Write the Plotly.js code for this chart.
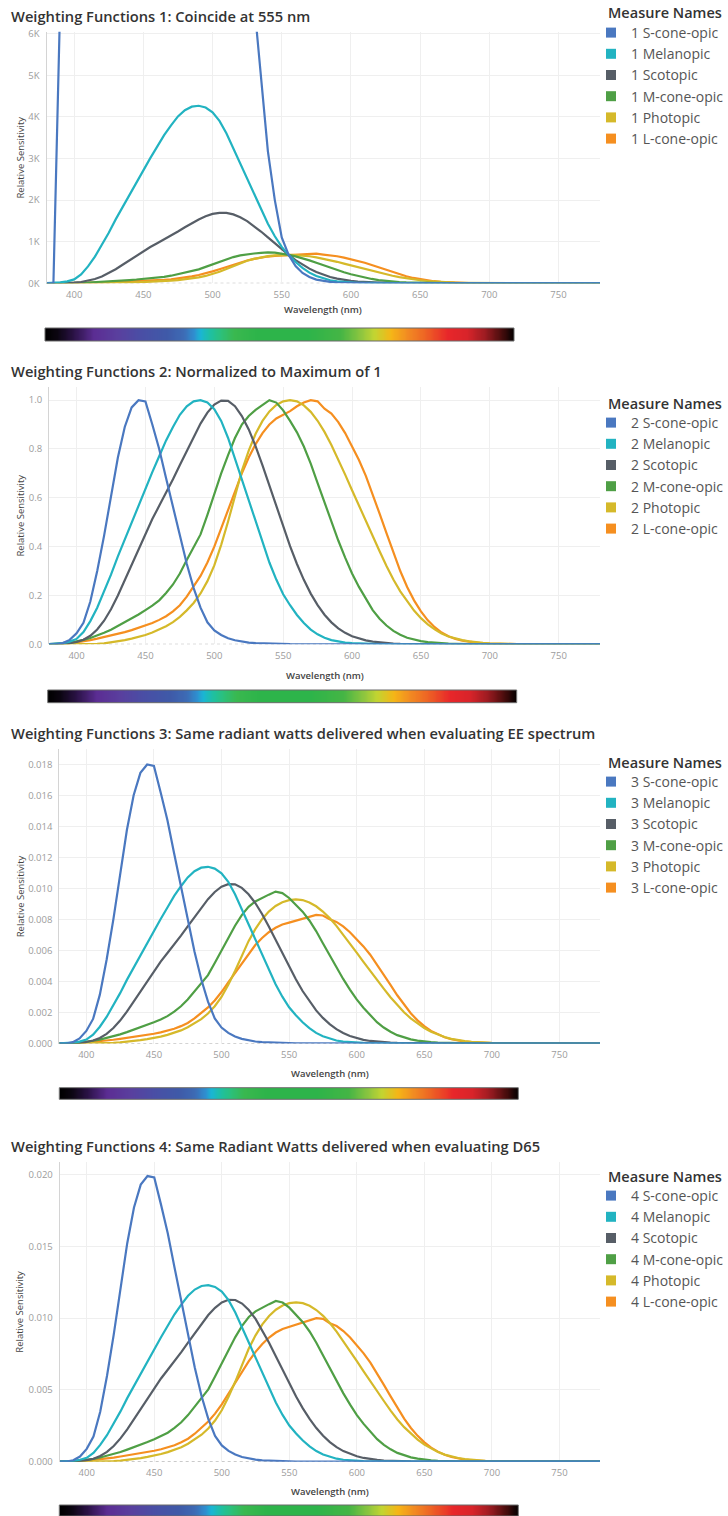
<!DOCTYPE html>
<html>
<head>
<meta charset="utf-8">
<script src="https://cdn.plot.ly/plotly-3.0.1.min.js"></script>
<style>
html,body{margin:0;padding:0;background:#fff;}
#chart{width:728px;height:1516px;}
</style>
</head>
<body>
<div id="chart"></div>
<script>
// ---------- DATA ----------
const wavelengths = [380,385,390,395,400,405,410,415,420,425,430,435,440,445,450,455,460,465,470,475,480,485,490,495,500,505,510,515,520,525,530,535,540,545,550,555,560,565,570,575,580,585,590,595,600,605,610,615,620,625,630,635,640,645,650,655,660,665,670,675,680,685,690,695,700,720,750,780];

// Shapes as drawn in panel 2 (normalized to a maximum of 1)
const sConeOpic = [0,0,0.005,0.018,0.045,0.088,0.175,0.30,0.445,0.60,0.765,0.89,0.97,1.0,0.995,0.90,0.80,0.68,0.565,0.44,0.33,0.23,0.15,0.09,0.057,0.038,0.025,0.0165,0.0108,0.0072,0.0049,0.00355,0.0023,0.00145,0.0008,0.000495,0.0003,0.00018,0.00011,0.000065,0.00004,0.000024,0.000014,0.0000085,0.000005,0.000003,0.000002,0.000001,0,0,0,0,0,0,0,0,0,0,0,0,0,0,0,0,0,0,0,0];
const melanopic = [0.001,0.002,0.005,0.011,0.022,0.05,0.095,0.15,0.215,0.285,0.36,0.43,0.50,0.57,0.64,0.705,0.77,0.835,0.89,0.94,0.975,0.995,1.0,0.99,0.963,0.915,0.845,0.76,0.67,0.585,0.50,0.415,0.335,0.265,0.205,0.16,0.12,0.087,0.06,0.041,0.027,0.017,0.011,0.007,0.0045,0.003,0.002,0.0013,0.0009,0.0006,0.0004,0.0003,0.0002,0.00015,0.0001,0.00007,0.00005,0.00003,0.00002,0.00001,0.00001,0,0,0,0,0,0,0];
const scotopic = [0.000589,0.001108,0.002209,0.00453,0.00929,0.01852,0.03484,0.0604,0.0966,0.1436,0.1998,0.2625,0.3281,0.3931,0.455,0.513,0.567,0.62,0.676,0.734,0.793,0.851,0.904,0.949,0.982,0.998,0.997,0.975,0.935,0.88,0.811,0.733,0.65,0.564,0.481,0.402,0.3288,0.2639,0.2076,0.1602,0.1212,0.0899,0.0655,0.0469,0.03315,0.02312,0.01593,0.01088,0.00737,0.00497,0.003335,0.002235,0.001497,0.001005,0.000677,0.000459,0.000313,0.000215,0.000148,0.000103,0.0000715,0.00005,0.0000353,0.000025,0.0000178,0.0000045,0.0000006,0];
const mConeOpic = [0,0,0.003,0.006,0.011,0.018,0.026,0.036,0.047,0.06,0.075,0.09,0.105,0.122,0.14,0.158,0.18,0.21,0.245,0.29,0.345,0.395,0.45,0.53,0.615,0.70,0.775,0.845,0.90,0.935,0.96,0.98,1.0,0.99,0.958,0.915,0.868,0.81,0.74,0.66,0.58,0.50,0.425,0.355,0.29,0.235,0.185,0.14,0.105,0.077,0.055,0.039,0.027,0.019,0.013,0.009,0.006,0.004,0.0027,0.0018,0.0012,0.0008,0.0005,0.0003,0.0002,0.00005,0,0];
const photopic = [0.000039,0.000064,0.00012,0.000217,0.000396,0.00064,0.00121,0.00218,0.004,0.0073,0.0116,0.01684,0.023,0.0298,0.038,0.048,0.06,0.0739,0.09098,0.1126,0.13902,0.1693,0.20802,0.2586,0.323,0.4073,0.503,0.6082,0.71,0.7932,0.862,0.91485,0.954,0.9803,0.99495,1.0,0.995,0.9786,0.952,0.9154,0.87,0.8163,0.757,0.6949,0.631,0.5668,0.503,0.4412,0.381,0.321,0.265,0.217,0.175,0.1382,0.107,0.0816,0.061,0.04458,0.032,0.0232,0.017,0.01192,0.00821,0.005723,0.004102,0.001047,0.00012,0.000015];
const lConeOpic = [0,0,0.002,0.004,0.008,0.012,0.017,0.023,0.029,0.036,0.043,0.05,0.058,0.067,0.076,0.087,0.1,0.115,0.135,0.16,0.195,0.235,0.28,0.335,0.40,0.475,0.55,0.625,0.70,0.765,0.82,0.865,0.90,0.925,0.94,0.955,0.975,0.99,1.0,0.995,0.965,0.945,0.91,0.865,0.81,0.755,0.69,0.615,0.535,0.455,0.375,0.30,0.235,0.18,0.135,0.098,0.07,0.048,0.033,0.022,0.015,0.01,0.0066,0.0044,0.003,0.0006,0.0001,0];

const seriesNames = ['S-cone-opic','Melanopic','Scotopic','M-cone-opic','Photopic','L-cone-opic'];
const seriesShapes = [sConeOpic, melanopic, scotopic, mConeOpic, photopic, lConeOpic];

// Per-panel size of each curve (panel 1: all meet at 683 at 555 nm; panels 2-4: peak values)
const panel1Scale = [1380000, 4269, 1699, 746, 683, 715];
const panel2Scale = [1, 1, 1, 1, 1, 1];
const panel3Scale = [0.0180, 0.0114, 0.0103, 0.0098, 0.0093, 0.0083];
const panel4Scale = [0.0199, 0.0123, 0.0113, 0.0112, 0.0111, 0.0100];

const panelTitles = [
  'Weighting Functions 1: Coincide at 555 nm',
  'Weighting Functions 2: Normalized to Maximum of 1',
  'Weighting Functions 3: Same radiant watts delivered when evaluating EE spectrum',
  'Weighting Functions 4: Same Radiant Watts delivered when evaluating D65'
];
const legendTitle = 'Measure Names';
const xTickVals = [400,450,500,550,600,650,700,750];
const yTickVals1 = [0,1000,2000,3000,4000,5000,6000];
const yTickText1 = ['0K','1K','2K','3K','4K','5K','6K'];
const yTickVals2 = [0,0.2,0.4,0.6,0.8,1.0];
const yTickVals3 = [0,0.002,0.004,0.006,0.008,0.010,0.012,0.014,0.016,0.018];
const yTickVals4 = [0,0.005,0.010,0.015,0.020];

// Visible-spectrum strip colours
const spectrumStops  = [0, 0.025, 0.06, 0.103, 0.153, 0.203, 0.26, 0.295, 0.317, 0.331, 0.352, 0.374, 0.402, 0.452, 0.559, 0.63, 0.673, 0.701, 0.737, 0.772, 0.808, 0.858, 0.9, 0.936, 0.972, 1];
const spectrumColors = ['#000000','#0b0510','#2a1245','#5b2d93','#5a3f9e','#4a4ea5','#3f5aa8','#3d6bb5','#2f8fd0','#1ab6d4','#1fc0a0','#2cc07a','#3ab84f','#2db44a','#2db44a','#45b545','#8ec63f','#c2d532','#f5b617','#f28b22','#ee6524','#e8262a','#d8242a','#9e1c22','#4a0d0d','#000000'];

// ---------- STYLE / LAYOUT ----------
const W = 728, H = 1516;
const FONT = 'Open Sans, Noto Sans, sans-serif';
const colors = ['#4a78c0','#22b3c1','#575e67','#4f9f45','#d5b92a','#f58f20'];
const px = v => v / W;
const py = v => 1 - v / H;

const panels = [
  {scale: panel1Scale, plot:{l:46.5,r:600,t:31.7,b:283.3}, yrange:[0,6050], tickvals:yTickVals1, ticktext:yTickText1, titleY:16, legTitleY:13, legItemY:33, xTitleOff:26, bar:{l:45,r:514,t:328,b:341}},
  {scale: panel2Scale, plot:{l:49,r:600,t:386.7,b:644.3}, yrange:[0,1.055], tickvals:yTickVals2, tickformat:'.1f', titleY:370.5, legTitleY:403, legItemY:423, xTitleOff:31, bar:{l:47.7,r:516.7,t:690,b:702.7}},
  {scale: panel3Scale, plot:{l:59.3,r:600,t:749,b:1043.5}, yrange:[0,0.019], tickvals:yTickVals3, tickformat:'.3f', titleY:732.5, legTitleY:762, legItemY:782, xTitleOff:30, bar:{l:59.3,r:518.3,t:1087.7,b:1099.3}},
  {scale: panel4Scale, plot:{l:59.7,r:600,t:1161.7,b:1461.7}, yrange:[0,0.0209], tickvals:yTickVals4, tickformat:'.3f', titleY:1146, legTitleY:1176, legItemY:1196, xTitleOff:30, bar:{l:59.3,r:518.3,t:1505,b:1516}}
];

const traces = [];
const layout = {
  width: W, height: H,
  margin: {l:0, r:0, t:0, b:0, autoexpand:false},
  paper_bgcolor: '#ffffff', plot_bgcolor: '#ffffff',
  showlegend: true,
  annotations: [], shapes: []
};

const ramp = [];
for (let i = 0; i <= 200; i++) ramp.push(i / 200);
const spectrumScale = spectrumStops.map((s, i) => [s, spectrumColors[i]]);

panels.forEach((p, idx) => {
  const k = idx + 1;
  const xa = k === 1 ? 'x' : 'x' + k;
  const ya = k === 1 ? 'y' : 'y' + k;
  const xKey = k === 1 ? 'xaxis' : 'xaxis' + k;
  const yKey = k === 1 ? 'yaxis' : 'yaxis' + k;
  const legId = k === 1 ? 'legend' : 'legend' + k;

  layout[xKey] = {
    domain: [px(p.plot.l), px(p.plot.r)], anchor: ya,
    range: [380, 780], tickvals: xTickVals, ticks: '', ticklabelstandoff: 4,
    tickfont: {family: FONT, size: 9.5, color: '#9c9c9c'},
    showgrid: true, gridcolor: '#efefef', gridwidth: 1,
    zeroline: false, showline: false, fixedrange: true, automargin: false
  };
  const ya_obj = {
    domain: [py(p.plot.b), py(p.plot.t)], anchor: xa,
    range: p.yrange, tickvals: p.tickvals, ticks: '', ticklabelstandoff: 4,
    tickfont: {family: FONT, size: 9.5, color: '#9c9c9c'},
    showgrid: true, gridcolor: '#efefef', gridwidth: 1,
    zeroline: false, showline: true, linecolor: '#d4d4d4', linewidth: 1,
    fixedrange: true, automargin: false
  };
  if (p.ticktext) ya_obj.ticktext = p.ticktext;
  if (p.tickformat) ya_obj.tickformat = p.tickformat;
  layout[yKey] = ya_obj;

  // dashed zero line
  layout.shapes.push({type:'line', xref: xa + ' domain', yref: ya, x0:0, x1:1, y0:0, y1:0,
    line:{color:'#a8a8a8', width:1, dash:'3px,3px'}, layer:'below'});

  // curves (drawn L first so S-cone ends on top)
  for (let s = seriesShapes.length - 1; s >= 0; s--) {
    traces.push({
      type: 'scatter', mode: 'lines', x: wavelengths,
      y: seriesShapes[s].map(v => v * p.scale[s]),
      xaxis: xa, yaxis: ya, line: {color: colors[s], width: 2.2},
      showlegend: false, hoverinfo: 'skip'
    });
  }
  // legend entries with square swatches
  for (let s = 0; s < seriesNames.length; s++) {
    traces.push({
      type: 'scatter', mode: 'markers', x: [null], y: [null], xaxis: xa, yaxis: ya,
      marker: {symbol: 'square', size: 10, color: colors[s]},
      name: k + ' ' + seriesNames[s], legend: legId, showlegend: true, hoverinfo: 'skip'
    });
  }
  layout[legId] = {
    x: px(591), xanchor: 'left', y: py(p.legItemY - 16), yanchor: 'top',
    xref: 'paper', yref: 'paper',
    font: {family: FONT, size: 14, color: '#555555'},
    bgcolor: 'rgba(0,0,0,0)', borderwidth: 0, tracegroupgap: 0, itemclick: false, itemdoubleclick: false
  };
  layout.annotations.push({text: legendTitle, xref:'paper', yref:'paper', x: px(606), y: py(p.legTitleY),
    xanchor:'left', yanchor:'middle', showarrow:false,
    font:{family: FONT, size: 14.5, color:'#333333', weight: 600}});

  // panel title
  layout.annotations.push({text: panelTitles[idx], xref:'paper', yref:'paper', x: px(9), y: py(p.titleY),
    xanchor:'left', yanchor:'middle', showarrow:false,
    font:{family: FONT, size: 14.7, color:'#333333', weight: 600}});
  // axis titles
  layout.annotations.push({text: 'Wavelength (nm)', xref:'paper', yref:'paper',
    x: px((p.plot.l + p.plot.r) / 2), y: py(p.plot.b + p.xTitleOff), xanchor:'center', yanchor:'middle',
    showarrow:false, font:{family: FONT, size: 9.5, color:'#444444', weight: 600}});
  layout.annotations.push({text: 'Relative Sensitivity', xref:'paper', yref:'paper', textangle: -90,
    x: px(20), y: py((p.plot.t + p.plot.b) / 2), xanchor:'center', yanchor:'middle',
    showarrow:false, font:{family: FONT, size: 9.5, color:'#444444'}});

  // spectrum strip
  const bx = 'x' + (k + 4), by = 'y' + (k + 4);
  layout['xaxis' + (k + 4)] = {domain:[px(p.bar.l), px(p.bar.r)], range:[0,1], visible:false, fixedrange:true, anchor: by};
  layout['yaxis' + (k + 4)] = {domain:[py(p.bar.b), py(p.bar.t)], range:[-0.5,1.5], visible:false, fixedrange:true, anchor: bx};
  traces.push({type:'heatmap', x: ramp, y:[0,1], z:[ramp, ramp], zmin:0, zmax:1,
    colorscale: spectrumScale, showscale:false, zsmooth:'best', hoverinfo:'skip', xaxis: bx, yaxis: by});
  layout.shapes.push({type:'rect', xref:'paper', yref:'paper', x0: px(p.bar.l), x1: px(p.bar.r),
    y0: py(p.bar.b), y1: py(p.bar.t), line:{color:'#6a6a6a', width:1}, fillcolor:'rgba(0,0,0,0)', layer:'above'});
});

Plotly.newPlot('chart', traces, layout, {staticPlot: true, displayModeBar: false});
</script>
</body>
</html>
